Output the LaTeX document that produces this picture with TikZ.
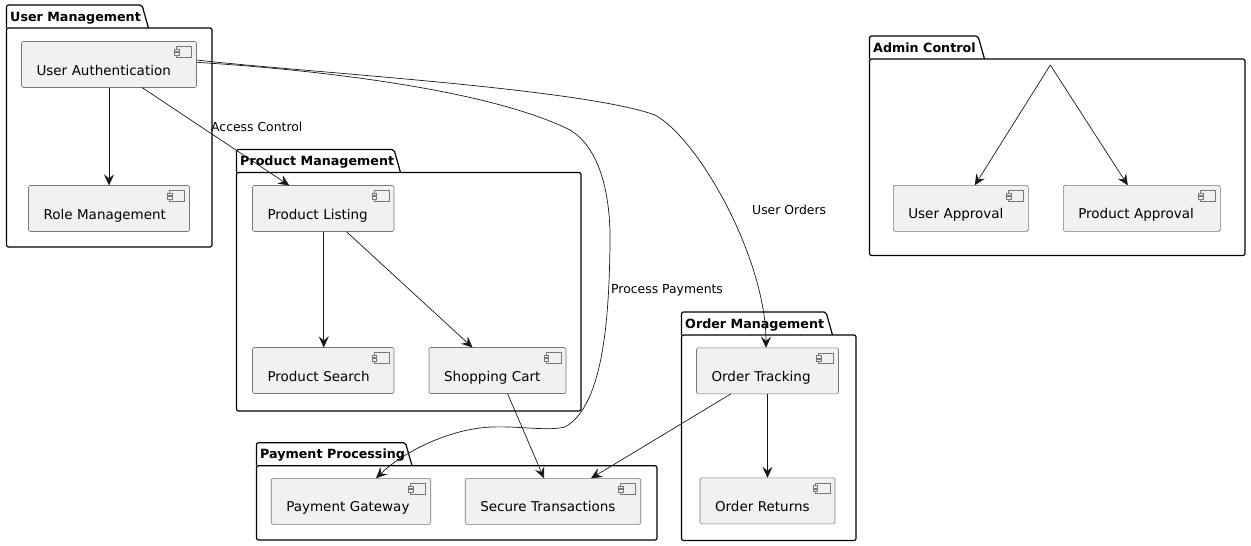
\documentclass[tikz,border=0pt]{standalone}
\usepackage{fontspec}
\setmainfont{DejaVu Sans}
\usepackage{tikz}
\usetikzlibrary{positioning,arrows.meta}

\definecolor{compfill}{HTML}{F1F1F1}
\definecolor{compline}{HTML}{777777}

\tikzset{
  comp/.style={draw=compline, line width=0.6pt, fill=compfill, rounded corners=1.5pt, outer sep=0pt,
    text width=#1-30pt, inner xsep=15pt, inner ysep=0pt, align=left,
    minimum height=46pt, text height=24pt, text depth=3pt, font=\fontsize{13.5}{15}\selectfont},
  pkg/.style={draw=black, line width=1.2pt, rounded corners=2pt, outer sep=0pt, inner sep=0pt},
  pkgtitle/.style={font=\bfseries\fontsize{12.7}{15}\selectfont, inner sep=0pt, anchor=base west},
  edgelabel/.style={font=\fontsize{12.4}{14}\selectfont, inner sep=0pt},
  link/.style={draw=black!90, line width=0.7pt, -{Stealth[length=11pt,width=10pt,inset=4pt]}},
}

% tab and title of a package: name, title, width of the tab
\newcommand{\pkgtab}[3]{
  \draw[line width=1.2pt, rounded corners=2pt] (#1.north west) -- ++(0,-23) -- ++(#3,0) -- ++(6.5,23);
  \node[pkgtitle] (#1title) at ([shift={(3.5,-7)}]#1.north west) {#2};
}

\begin{document}
\begin{tikzpicture}[x=1pt, y=-1pt]
\useasboundingbox (0,0) rectangle (1251,546);

% Packages
\node[pkg, minimum width=205.5pt, minimum height=219pt] (usermgmt) at (109.25,137.5) {};
\node[pkg, minimum width=344.5pt, minimum height=238.5pt] (productmgmt) at (408.75,291.75) {};
\node[pkg, minimum width=400.5pt, minimum height=74.3pt] (paymentproc) at (456.75,502.85) {};
\node[pkg, minimum width=174.5pt, minimum height=205.5pt] (ordermgmt) at (768.75,437.75) {};
\node[pkg, minimum width=375.5pt, minimum height=196.5pt] (admincontrol) at (1057.25,157.25) {};
\pkgtab{usermgmt}{User Management}{135.5}
\pkgtab{productmgmt}{Product Management}{157.5}
\pkgtab{paymentproc}{Payment Processing}{149}
\pkgtab{ordermgmt}{Order Management}{144.5}
\pkgtab{admincontrol}{Admin Control}{108.5}

% User Management
\node[comp=175pt] (userauth) at (109,64.5) {User Authentication};
\node[comp=161pt, below=98pt of userauth] (rolemgmt) {Role Management};

% Product Management
\node[comp=141.5pt] (productlisting) at (323.25,208.5) {Product Listing};
\node[comp=141.5pt, below=116pt of productlisting] (productsearch) {Product Search};
\node[comp=137pt, right=35pt of productsearch] (shoppingcart) {Shopping Cart};

% Payment Processing
\node[comp=159.5pt] (paymentgateway) at (351,501.3) {Payment Gateway};
\node[comp=175.5pt, right=34.5pt of paymentgateway] (securetrans) {Secure Transactions};

% Order Management
\node[comp=142pt] (ordertracking) at (767.5,370.8) {Order Tracking};
\node[comp=135pt, below=84pt of ordertracking] (orderreturns) {Order Returns};

% Admin Control
\coordinate (adminpoint) at (1050.3,65);
\node[comp=135pt] (userapproval) at (960.8,208.3) {User Approval};
\node[comp=157pt, right=35pt of userapproval] (productapproval) {Product Approval};

% Component icons
\foreach \n in {userauth,rolemgmt,productlisting,productsearch,shoppingcart,paymentgateway,securetrans,ordertracking,orderreturns,userapproval,productapproval} {
  \draw[draw=compline, line width=0.6pt] ([shift={(-20,5)}]\n.north east) rectangle ([shift={(-5,15.5)}]\n.north east);
  \draw[draw=compline, line width=0.6pt, fill=compfill] ([shift={(-22,7.5)}]\n.north east) rectangle ([shift={(-17.5,10)}]\n.north east);
  \draw[draw=compline, line width=0.6pt, fill=compfill] ([shift={(-22,11)}]\n.north east) rectangle ([shift={(-17.5,13.5)}]\n.north east);
}

% Connectors
\draw[link] (userauth.south) -- (rolemgmt.north);
\draw[link] ([xshift=33pt]userauth.south) -- ([xshift=-34pt]productlisting.north);
\draw[link] ([xshift=0.5pt]productlisting.south) -- ([xshift=0.5pt]productsearch.north);
\draw[link] ([xshift=23pt]productlisting.south) -- ([xshift=-25pt]shoppingcart.north);
\draw[link] ([xshift=10pt]shoppingcart.south) -- ([xshift=-9pt]securetrans.north);
\draw[link] ([xshift=-36.5pt]ordertracking.south) -- ([xshift=38pt]securetrans.north);
\draw[link] (ordertracking.south) -- (orderreturns.north);
\draw[link] (adminpoint) -- ([xshift=14pt]userapproval.north);
\draw[link] (adminpoint) -- ([xshift=-14pt]productapproval.north);
\draw[link] ([yshift=2.2pt]userauth.east) .. controls (320,70) and (490,90) .. (570,130)
  .. controls (600,148) and (611,195) .. (610,245)
  .. controls (609,310) and (605,405) .. (565,427)
  .. controls (545,432) and (510,424) .. (480,428)
  .. controls (440,433) and (400,455) .. ([xshift=25pt]paymentgateway.north);
\draw[link] ([yshift=4.5pt]userauth.east) .. controls (300,72) and (580,88) .. (655,115)
  .. controls (700,140) and (766,260) .. ([xshift=-1.5pt]ordertracking.north);

% Labels
\node[edgelabel, anchor=west] (accesslabel) at (211,127) {Access Control};
\node[edgelabel, anchor=west] (orderslabel) at (752,210) {User Orders};
\node[edgelabel, anchor=west] (paymentslabel) at (611,290) {Process Payments};

\end{tikzpicture}
\end{document}
